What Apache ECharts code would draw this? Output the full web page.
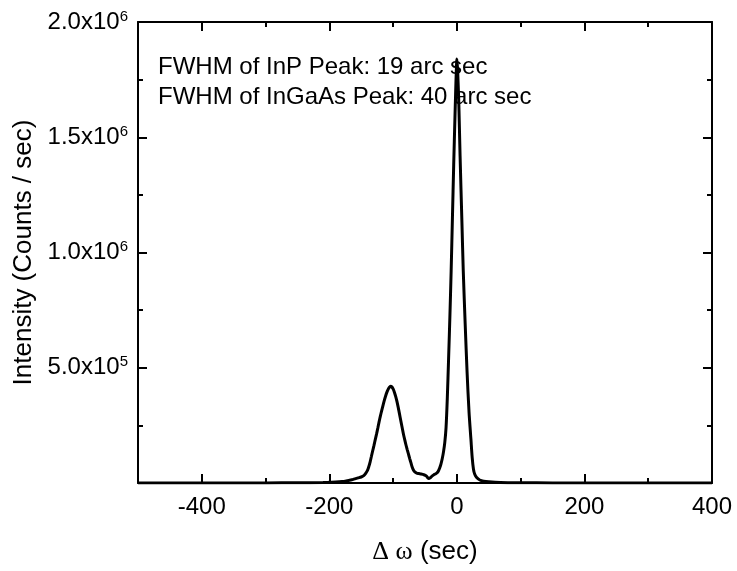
<!DOCTYPE html>
<html>
<head>
<meta charset="utf-8">
<script src="https://cdn.jsdelivr.net/npm/echarts@6/dist/echarts.min.js"></script>
<style>
  html, body { margin: 0; padding: 0; background: #fff; }
  #chart { width: 737px; height: 571px; }
</style>
</head>
<body>
<div id="chart"></div>
<script>
// Rocking curve: angular offset (arc sec) and measured intensity (counts / sec)
const omega = [-500,-400,-300,-250,-210,-200,-190,-180,-175,-170,-165,-160,-155,-150,-146,-143,-140,-138,-136,-134,-132,-130,-128,-126,-124,-122,-120,-118,-116,-114,-112,-110,-108,-106,-104,-102,-100,-98,-96,-94,-92,-90,-88,-86,-84,-82,-80,-78,-76,-74,-72,-70,-68,-66,-63,-60,-56,-52,-48,-46,-44,-42,-39,-36,-33,-31,-29,-27,-25,-23,-21,-19,-17,-15,-13,-11,-9,-7,-5,-3,-2,-1,0,1,2,3,5,8,10,13,16,19,22,24,26,28,31,36,42,50,60,80,100,150,200,300,400];
const intensity = [0,0,500,1000,2000,3000,4000,6000,8000,11000,14000,18000,22000,26000,32000,42000,56000,72000,92000,116000,140000,163000,188000,212000,238000,265000,290000,313000,335000,356000,375000,392000,405000,415000,420000,417000,408000,394000,376000,354000,328000,300000,271000,243000,215000,190000,167000,146000,126000,106000,87000,68000,55000,48000,43000,41000,39000,36000,31000,24000,19000,22000,30000,36000,40000,44000,52000,65000,82000,105000,135000,175000,240000,370000,540000,720000,920000,1150000,1380000,1590000,1690000,1780000,1840000,1800000,1730000,1650000,1420000,1120000,920000,690000,480000,310000,190000,110000,60000,38000,24000,13000,8000,5000,3000,1500,800,400,200,0,0];

// Axis ticks
const xMajorTicks = [-400, -200, 0, 200, 400];
const xRange = [-500, 400];
const yRange = [0, 2000000];

const notes = [
  'FWHM of InP Peak: 19 arc sec',
  'FWHM of InGaAs Peak: 40 arc sec'
];

const FONT = '"Liberation Sans", Arial, Helvetica, sans-serif';
const BLACK = '#000';

function sciLabel(v) {
  if (v === 0) return '';
  const e = Math.floor(Math.log10(v) + 1e-9);
  const m = v / Math.pow(10, e);
  return '{m|' + m.toFixed(1) + 'x10}{e|' + e + '}';
}

const chart = echarts.init(document.getElementById('chart'), null, { renderer: 'canvas' });

const baseX = {
  type: 'value', min: xRange[0], max: xRange[1],
  splitLine: { show: false }
};
const baseY = {
  type: 'value', min: yRange[0], max: yRange[1], interval: 500000,
  splitLine: { show: false }
};

chart.setOption({
  animation: false,
  backgroundColor: '#fff',
  grid: { left: 138, right: 25, top: 22, bottom: 88, containLabel: false },
  xAxis: [
    Object.assign({}, baseX, {
      position: 'bottom', interval: 100,
      axisLine: { show: true, onZero: false, lineStyle: { color: BLACK, width: 2 } },
      axisTick: { show: true, inside: true, length: 5, lineStyle: { color: BLACK, width: 2 } },
      axisLabel: {
        show: true, margin: 12, color: BLACK, fontFamily: FONT, fontSize: 24,
        formatter: v => (v % 200 === 0 ? String(v) : '')
      },
      name: '{g|\u0394 \u03c9} (sec)', nameLocation: 'middle', nameGap: 56,
      nameTextStyle: {
        color: BLACK, fontFamily: FONT, fontSize: 26,
        rich: { g: { fontFamily: '"Liberation Serif", "Times New Roman", serif', fontSize: 26, color: BLACK } }
      }
    }),
    Object.assign({}, baseX, {
      position: 'bottom',
      axisLine: { show: false, onZero: false },
      axisTick: { show: true, inside: true, length: 9, customValues: xMajorTicks, lineStyle: { color: BLACK, width: 2 } },
      axisLabel: { show: false }
    }),
    Object.assign({}, baseX, {
      position: 'top', interval: 100,
      axisLine: { show: true, onZero: false, lineStyle: { color: BLACK, width: 2 } },
      axisTick: { show: true, inside: true, length: 5, lineStyle: { color: BLACK, width: 2 } },
      axisLabel: { show: false }
    }),
    Object.assign({}, baseX, {
      position: 'top',
      axisLine: { show: false, onZero: false },
      axisTick: { show: true, inside: true, length: 9, customValues: xMajorTicks, lineStyle: { color: BLACK, width: 2 } },
      axisLabel: { show: false }
    })
  ],
  yAxis: [
    Object.assign({}, baseY, {
      position: 'left',
      axisLine: { show: true, onZero: false, lineStyle: { color: BLACK, width: 2 } },
      axisTick: { show: true, inside: true, length: 9, lineStyle: { color: BLACK, width: 2 } },
      minorTick: { show: true, splitNumber: 2, length: 5, lineStyle: { color: BLACK, width: 2 } },
      axisLabel: {
        show: true, showMinLabel: false, margin: 10, color: BLACK,
        formatter: sciLabel,
        rich: {
          m: { fontFamily: FONT, fontSize: 24, color: BLACK },
          e: { fontFamily: FONT, fontSize: 15, color: BLACK, verticalAlign: 'top', padding: [0, 0, 11, 0] }
        }
      },
      name: 'Intensity (Counts / sec)', nameLocation: 'middle', nameGap: 98,
      nameTextStyle: { color: BLACK, fontFamily: FONT, fontSize: 26 }
    }),
    Object.assign({}, baseY, {
      position: 'right',
      axisLine: { show: true, onZero: false, lineStyle: { color: BLACK, width: 2 } },
      axisTick: { show: true, inside: true, length: 9, lineStyle: { color: BLACK, width: 2 } },
      minorTick: { show: true, splitNumber: 2, length: 5, lineStyle: { color: BLACK, width: 2 } },
      axisLabel: { show: false }
    })
  ],
  graphic: notes.map((t, i) => ({
    type: 'text', left: 158, top: 55 + i * 30, z: 10,
    style: { text: t, fill: BLACK, font: '24px ' + FONT }
  })),
  series: [{
    type: 'line',
    xAxisIndex: 0, yAxisIndex: 0,
    data: omega.map((x, i) => [x, intensity[i]]),
    showSymbol: false, smooth: 0.3, clip: true,
    lineStyle: { color: BLACK, width: 3 }
  }]
});
</script>
</body>
</html>
